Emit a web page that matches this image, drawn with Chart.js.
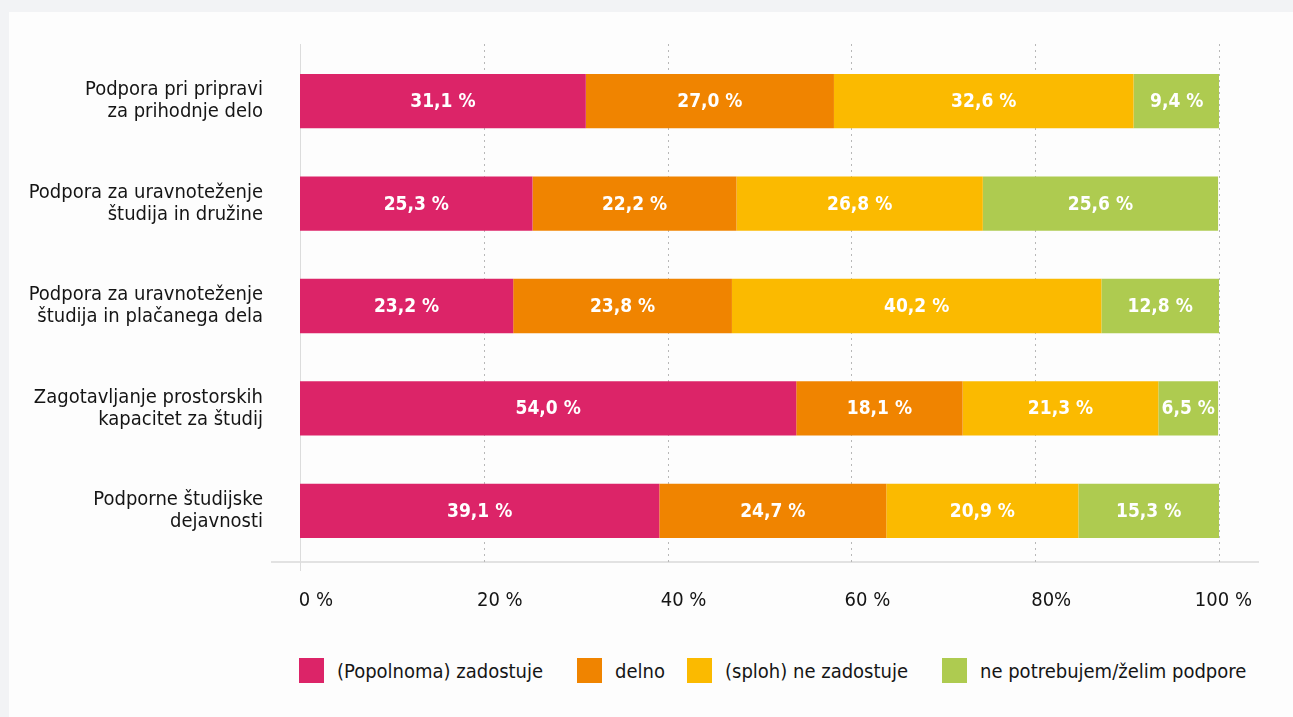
<!DOCTYPE html>
<html>
<head>
<meta charset="utf-8">
<script src="https://cdn.jsdelivr.net/npm/chart.js@4.4.0/dist/chart.umd.min.js"></script>
<style>
  html, body { margin: 0; padding: 0; background: #f2f3f5; overflow: hidden; }
  body { width: 1293px; height: 717px; position: relative; font-family: "Liberation Sans Narrow", "DejaVu Sans Condensed", sans-serif; }
  #panel { position: absolute; left: 9px; top: 12px; width: 1284px; height: 705px; background: #fdfdfd; }
  #wrap { position: absolute; left: 0; top: 0; width: 1284px; height: 620px; }
  #legend { position: absolute; left: 290px; top: 646px; display: flex; align-items: center; font-size: 20px; color: #151515; white-space: nowrap; }
  .item { display: flex; align-items: center; margin-right: 34px; }
  .item:nth-child(2) { margin-right: 22px; }
  .box { width: 25px; height: 25px; margin-right: 13px; flex: none; }
</style>
</head>
<body>
<div id="panel">
  <div id="wrap"><canvas id="chart"></canvas></div>
  <div id="legend"></div>
</div>
<script>
// kategorije (vrstice)
const categories = [
  ['Podpora pri pripravi', 'za prihodnje delo'],
  ['Podpora za uravnoteženje', 'študija in družine'],
  ['Podpora za uravnoteženje', 'študija in plačanega dela'],
  ['Zagotavljanje prostorskih', 'kapacitet za študij'],
  ['Podporne študijske', 'dejavnosti']
];

// serije
const seriesNames = ['(Popolnoma) zadostuje', 'delno', '(sploh) ne zadostuje', 'ne potrebujem/želim podpore'];
const seriesColors = ['#dc2468', '#f08400', '#fbba00', '#aecb50'];

const fullyValues   = [31.1, 25.3, 23.2, 54.0, 39.1];
const partlyValues  = [27.0, 22.2, 23.8, 18.1, 24.7];
const notValues     = [32.6, 26.8, 40.2, 21.3, 20.9];
const noNeedValues  = [9.4, 25.6, 12.8, 6.5, 15.3];

// oznake osi x
const tickLabels = { 0: '0 %', 20: '20 %', 40: '40 %', 60: '60 %', 80: '80%', 100: '100 %' };

const FONT = '"Liberation Sans Narrow", "DejaVu Sans Condensed", sans-serif';

const seriesValues = [fullyValues, partlyValues, notValues, noNeedValues];

// Legenda (HTML)
document.getElementById('legend').innerHTML = seriesNames.map((n, i) =>
  `<div class="item"><div class="box" style="background:${seriesColors[i]}"></div><span>${n}</span></div>`
).join('');

// Mreža in osi narisane ročno (pikčaste črte)
const gridPlugin = {
  id: 'gridLines',
  beforeDatasetsDraw(chart) {
    const { ctx, chartArea, scales } = chart;
    const x = scales.x;
    ctx.save();
    // vodoravna os
    ctx.strokeStyle = '#e2e2e2';
    ctx.lineWidth = 2;
    ctx.setLineDash([]);
    ctx.beginPath();
    ctx.moveTo(chartArea.left - 29, chartArea.bottom);
    ctx.lineTo(chartArea.right + 40, chartArea.bottom);
    ctx.stroke();
    x.ticks.forEach(t => {
      const px = Math.round(x.getPixelForValue(t.value)) + 0.5;
      ctx.beginPath();
      if (t.value === 0) {
        ctx.strokeStyle = '#dcdcdc';
        ctx.lineWidth = 1;
        ctx.setLineDash([]);
        ctx.moveTo(px, chartArea.top - 6);
        ctx.lineTo(px, chartArea.bottom + 9);
      } else {
        ctx.strokeStyle = '#b8b8b8';
        ctx.lineWidth = 1;
        ctx.setLineDash([2, 4]);
        ctx.moveTo(px, chartArea.top - 6);
        ctx.lineTo(px, chartArea.bottom);
      }
      ctx.stroke();
    });
    ctx.restore();
  },
  // oznake osi x: malo desno od črte, zadnja ne čez rob
  afterDraw(chart) {
    const { ctx, chartArea, scales } = chart;
    const x = scales.x;
    ctx.save();
    ctx.fillStyle = '#151515';
    ctx.font = '20px ' + FONT;
    ctx.textBaseline = 'middle';
    ctx.textAlign = 'center';
    x.ticks.forEach(t => {
      const txt = tickLabels[t.value];
      const w = ctx.measureText(txt).width;
      let cx = x.getPixelForValue(t.value) + 16;
      cx = Math.min(cx, chartArea.right + 33 - w / 2);
      ctx.fillText(txt, cx, chartArea.bottom + 39);
    });
    ctx.restore();
  }
};

// Oznake vrednosti v stolpcih
const valueLabels = {
  id: 'valueLabels',
  afterDatasetsDraw(chart) {
    const { ctx } = chart;
    ctx.save();
    ctx.fillStyle = '#ffffff';
    ctx.font = 'bold 19px ' + FONT;
    ctx.textAlign = 'center';
    ctx.textBaseline = 'middle';
    chart.data.datasets.forEach((ds, di) => {
      chart.getDatasetMeta(di).data.forEach((bar, i) => {
        const v = ds.data[i];
        const cx = (bar.x + bar.base) / 2;
        ctx.fillText(v.toFixed(1).replace('.', ',') + ' %', cx, bar.y + 1);
      });
    });
    ctx.restore();
  }
};

new Chart(document.getElementById('chart'), {
  type: 'bar',
  data: {
    labels: categories,
    datasets: seriesNames.map((n, i) => ({
      label: n,
      data: seriesValues[i],
      backgroundColor: seriesColors[i],
      borderWidth: 0,
      barPercentage: 0.53,
      categoryPercentage: 1
    }))
  },
  options: {
    indexAxis: 'y',
    responsive: true,
    maintainAspectRatio: false,
    animation: false,
    layout: { padding: { left: 0, top: 38, right: 74, bottom: 0 } },
    plugins: {
      legend: { display: false },
      tooltip: { enabled: false }
    },
    scales: {
      x: {
        stacked: true,
        min: 0,
        max: 100,
        border: { display: false },
        grid: { display: false, drawTicks: false },
        afterFit(scale) { scale.height = 70; scale.paddingLeft = 0; scale.paddingRight = 0; },
        ticks: {
          stepSize: 20,
          display: false
        }
      },
      y: {
        stacked: true,
        border: { display: false },
        grid: { display: false, drawTicks: false },
        afterFit(scale) { scale.width = 291; scale.paddingTop = 0; scale.paddingBottom = 0; },
        ticks: {
          padding: 37,
          color: '#151515',
          font: { family: FONT, size: 20, lineHeight: 1.1 }
        }
      }
    }
  },
  plugins: [gridPlugin, valueLabels]
});
</script>
</body>
</html>
